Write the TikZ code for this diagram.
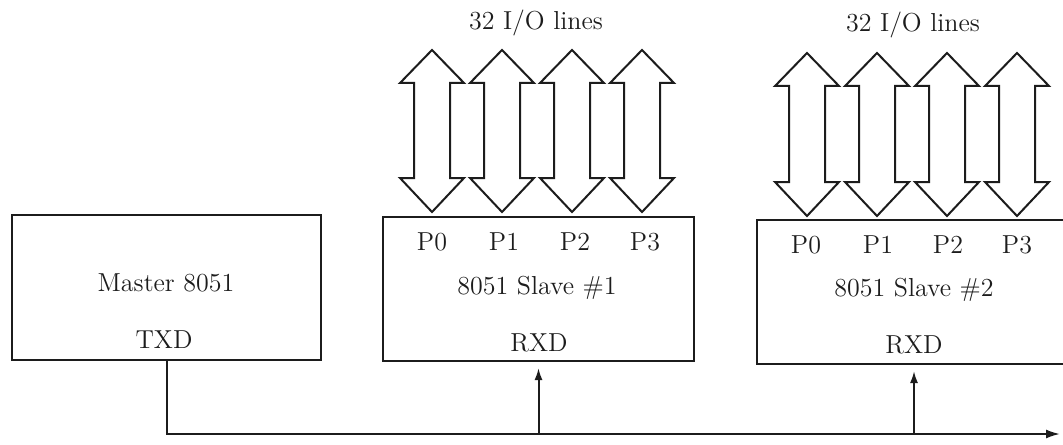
\documentclass[tikz,border=0pt]{standalone}
\usepackage{tikz}
\usetikzlibrary{arrows.meta,positioning}
\definecolor{BusInk}{HTML}{1C1C1C}

\begin{document}
\begin{tikzpicture}[x=0.5pt,y=-0.5pt,
    chip/.style={draw=BusInk,line width=1pt,fill=white,inner sep=0pt},
    pin/.style={BusInk,font=\fontsize{13}{15}\selectfont},
    port/.style={draw=BusInk,line width=1pt,fill=white,line join=miter},
    wire/.style={BusInk,line width=1pt}]
        \useasboundingbox (0,0) rectangle (1063,444);
        \node[chip,minimum width=154.5pt,minimum height=72.5pt] (master) at (166.5,287.5) {};
        \node[chip,minimum width=155.5pt,minimum height=72pt] (slaveA) at (538.5,289) {};
        \node[chip,minimum width=157pt,minimum height=72pt] (slaveB) at (914,292) {};
        \foreach \cx in {432,502,572,642}
          \draw[port] (\cx,50) -- ++(32,33) -- ++(-14,0) -- ++(0,95) -- ++(14,0) -- ++(-32,34)
            -- ++(-32,-34) -- ++(14,0) -- ++(0,-95) -- ++(-14,0) -- cycle;
        \foreach \cx in {807,877,947,1017}
          \draw[port] (\cx,53) -- ++(32,33) -- ++(-14,0) -- ++(0,96) -- ++(14,0) -- ++(-32,34)
            -- ++(-32,-34) -- ++(14,0) -- ++(0,-96) -- ++(-14,0) -- cycle;
        \node[pin] (linesA) at (536,23) {32 I/O lines};
        \node[pin] (linesB) at (913,25) {32 I/O lines};
        \node[pin] (mname) at (166,283) {Master 8051};
        \node[pin] (txd) at (164,340) {TXD};
        \foreach \px/\pn in {432/0,504/1,575/2,645/3}
          \node[pin] (pa\pn) at (\px,242) {P\pn};
        \node[pin] (aname) at (537,288) {8051 Slave \#1};
        \node[pin] (rxdA) at (539,343) {RXD};
        \foreach \px/\pn in {806/0,878/1,948/2,1017/3}
          \node[pin] (pb\pn) at (\px,245) {P\pn};
        \node[pin] (bname) at (914,290) {8051 Slave \#2};
        \node[pin] (rxdB) at (914,345) {RXD};
        \coordinate (busend) at (1060,434);
        \draw[wire,-{Latex[length=7pt,width=4.5pt]}] (master.south) |- (busend);
        \draw[wire,-{Latex[length=6pt,width=4pt]}] (slaveA.south |- busend) -- ([yshift=-3pt]slaveA.south);
        \draw[wire,-{Latex[length=6pt,width=4pt]}] (slaveB.south |- busend) -- ([yshift=-3pt]slaveB.south);
      \end{tikzpicture}
\end{document}
